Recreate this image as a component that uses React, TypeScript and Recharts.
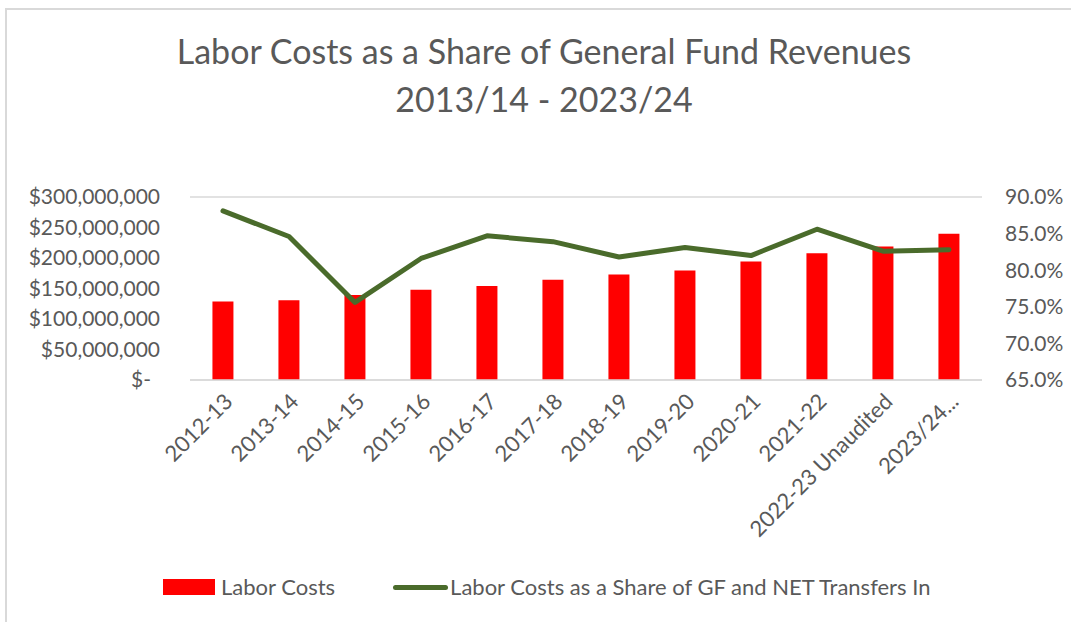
import React from "react";
import {
  ComposedChart,
  Bar,
  Line,
  XAxis,
  YAxis,
  CartesianGrid,
  Legend,
} from "recharts";

const categories = [
  "2012-13",
  "2013-14",
  "2014-15",
  "2015-16",
  "2016-17",
  "2017-18",
  "2018-19",
  "2019-20",
  "2020-21",
  "2021-22",
  "2022-23 Unaudited",
  "2023/24...",
];
const laborCosts = [
  128600000, 130900000, 139200000, 148000000, 154000000, 164500000,
  172800000, 179500000, 194400000, 207600000, 218700000, 239600000,
];
const laborShare = [88.1, 84.6, 75.6, 81.6, 84.7, 83.9, 81.8, 83.1, 82.0, 85.6, 82.6, 82.8];
const leftTicks = [0, 50000000, 100000000, 150000000, 200000000, 250000000, 300000000];
const rightTicks = [65, 70, 75, 80, 85, 90];

const data = categories.map((name, i) => ({
  name,
  cost: laborCosts[i],
  share: laborShare[i],
}));

const FONT = "Lato, 'Open Sans', sans-serif";
const TEXT = "#595959";
const GREEN = "#4a6b2b";

const fmtMoney = (v: number) =>
  v === 0 ? "$-" : "$" + v.toLocaleString("en-US");

const LeftTick = (props: any) => {
  const { x, y, payload } = props;
  const zero = payload.value === 0;
  return (
    <text
      x={x - (zero ? 9 : 0)}
      y={y}
      dy={7}
      textAnchor="end"
      fill={TEXT}
      fontSize={21}
      fontFamily={FONT}
    >
      {fmtMoney(payload.value)}
    </text>
  );
};

const LegendContent = () => (
  <div
    style={{
      display: "flex",
      alignItems: "center",
      fontFamily: FONT,
      fontSize: 22,
      lineHeight: "26px",
      color: TEXT,
      paddingLeft: 163,
    }}
  >
    <span style={{ width: 52, height: 16, background: "#ff0000", display: "inline-block" }} />
    <span style={{ marginLeft: 6 }}>Labor Costs</span>
    <span
      style={{
        width: 55,
        height: 5,
        background: GREEN,
        borderRadius: 3,
        display: "inline-block",
        marginLeft: 58,
      }}
    />
    <span style={{ marginLeft: 2 }}>Labor Costs as a Share of GF and NET Transfers In</span>
  </div>
);

export default function App() {
  return (
    <div
      style={{
        position: "absolute",
        left: 0,
        top: 0,
        width: 1071,
        height: 622,
        background: "#fff",
      }}
    >
      <div
        style={{
          position: "absolute",
          left: 5,
          top: 8,
          right: 0,
          bottom: 0,
          borderLeft: "2px solid #d9d9d9",
          borderTop: "2px solid #d9d9d9",
        }}
      />
      <div
        style={{
          position: "absolute",
          left: 0,
          top: 27,
          width: 1088,
          textAlign: "center",
          fontFamily: FONT,
          fontSize: 34,
          lineHeight: "48px",
          color: TEXT,
        }}
      >
        Labor Costs as a Share of General Fund Revenues
        <br />
        2013/14 - 2023/24
      </div>
      <div style={{ position: "absolute", left: 0, top: 0 }}>
        <ComposedChart
          width={1071}
          height={622}
          data={data}
          margin={{ top: 197, right: 0, left: 0, bottom: 22 }}
          barCategoryGap="34%"
        >
          <CartesianGrid vertical={false} stroke="#d9d9d9" strokeWidth={1.5} />
          <XAxis
            dataKey="name"
            axisLine={{ stroke: "#d9d9d9", strokeWidth: 1.5 }}
            tickLine={false}
            interval={0}
            angle={-45}
            textAnchor="end"
            height={194}
            tickSize={0}
            tickMargin={12}
            tick={{ fill: TEXT, fontSize: 22, fontFamily: FONT }}
          />
          <YAxis
            yAxisId="left"
            width={190}
            domain={[0, 300000000]}
            ticks={leftTicks}
            axisLine={false}
            tickLine={false}
            tickSize={0}
            tick={<LeftTick />}
            tickMargin={30}
          />
          <YAxis
            yAxisId="right"
            orientation="right"
            width={89}
            domain={[65, 90]}
            ticks={rightTicks}
            axisLine={false}
            tickLine={false}
            tickSize={0}
            tickMargin={23}
            tickFormatter={(v: number) => v.toFixed(1) + "%"}
            tick={{ fill: TEXT, fontSize: 21, fontFamily: FONT }}
          />
          <Legend verticalAlign="bottom" content={<LegendContent />} />
          <Bar
            yAxisId="left"
            dataKey="cost"
            name="Labor Costs"
            fill="#ff0000"
            isAnimationActive={false}
          />
          <Line
            yAxisId="right"
            dataKey="share"
            name="Labor Costs as a Share of GF and NET Transfers In"
            stroke={GREEN}
            strokeWidth={5}
            strokeLinecap="round"
            strokeLinejoin="round"
            dot={false}
            activeDot={false}
            isAnimationActive={false}
          />
        </ComposedChart>
      </div>
    </div>
  );
}
